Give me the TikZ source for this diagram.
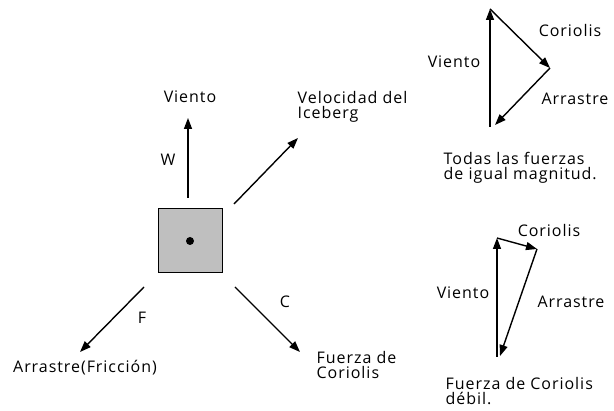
\documentclass[tikz,border=0pt]{standalone}
\usepackage{fontspec}
\setmainfont{Open Sans}[LetterSpace=6]
\usetikzlibrary{arrows.meta}

\begin{document}
\begin{tikzpicture}[x=1pt, y=-1pt, line width=1.4pt,
    every node/.style={font=\fontsize{16}{15}\selectfont, inner sep=0pt},
    force/.style={-{Triangle[length=11pt, width=8pt]}},
    multi/.style={align=left, anchor=west}]
          \useasboundingbox (0,0) rectangle (614,411);

          % iceberg
          \node[draw, line width=1pt, fill=black!25, minimum size=64pt] (berg) at (190,241) {};
          \fill (berg.center) circle (4pt);

          % forces on the iceberg
          \coordinate (w0) at (188,198);  \coordinate (w1) at (188,118);
          \coordinate (v0) at (234,204);  \coordinate (v1) at (298,138);
          \coordinate (f0) at (144,287);  \coordinate (f1) at (80,352);
          \coordinate (c0) at (235,287);  \coordinate (c1) at (300,352);
          \draw[force] (w0) -- (w1);
          \draw[force] (v0) -- (v1);
          \draw[force] (f0) -- (f1);
          \draw[force] (c0) -- (c1);

          \node (lblW) at (168,160) {W};
          \node (lblF) at (142,318) {F};
          \node (lblC) at (285,302) {C};
          \node (txtW) at (190,97) {Viento};
          \node[multi] (txtV) at (297,107) {Velocidad del\\Iceberg};
          \node (txtF) at (85,368) {Arrastre(Fricción)};
          \node[multi] (txtC) at (316,365) {Fuerza de\\Coriolis};

          % equal forces
          \coordinate (a0) at (490,127);
          \coordinate (a1) at (490,9);
          \coordinate (a2) at (550,68);
          \coordinate (a3) at (495,125);
          \draw[force] (a0) -- (a1);
          \draw[force] (a1) -- (a2);
          \draw[force] (a2) -- (a3);
          \node (aW) at (454,62) {Viento};
          \node (aC) at (570,31) {Coriolis};
          \node (aF) at (575,99) {Arrastre};
          \node[multi] (aTxt) at (443,168) {Todas las fuerzas\\de igual magnitud.};

          % weak coriolis
          \coordinate (b0) at (497,357);
          \coordinate (b1) at (497,238);
          \coordinate (b2) at (537,249);
          \coordinate (b3) at (500,356);
          \draw[force] (b0) -- (b1);
          \draw[force] (b1) -- (b2);
          \draw[force] (b2) -- (b3);
          \node (bW) at (463,293) {Viento};
          \node (bC) at (549,231) {Coriolis};
          \node (bF) at (571,302) {Arrastre};
          \node[multi] (bTxt) at (445,391) {Fuerza de Coriolis\\débil.};
        \end{tikzpicture}
\end{document}
